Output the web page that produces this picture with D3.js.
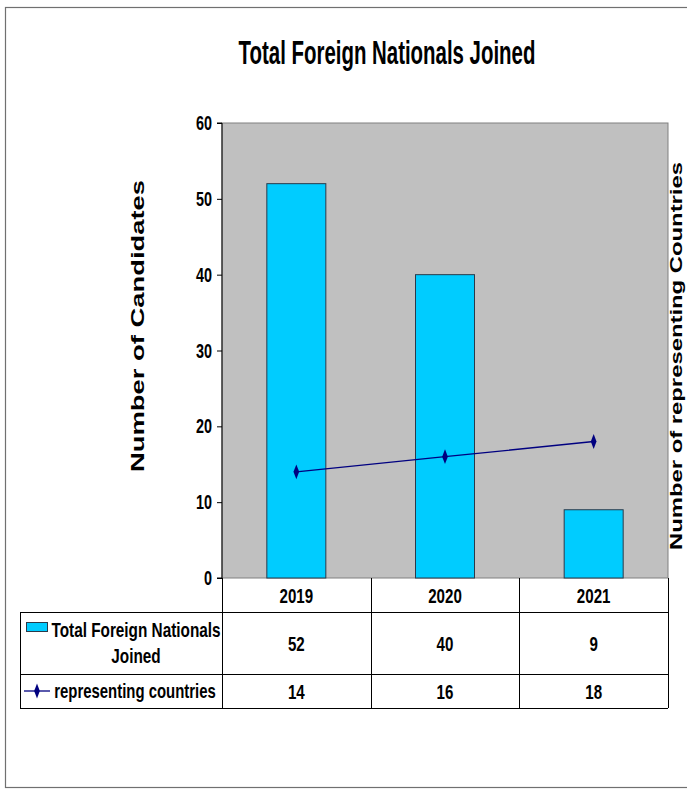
<!DOCTYPE html>
<html><head><meta charset="utf-8">
<script src="https://cdn.jsdelivr.net/npm/d3@7"></script>
<style>
html,body{margin:0;padding:0;background:#fff;}
svg{display:block;}
</style></head>
<body>
<svg id="chart" width="687" height="790"></svg>
<script>
const categories = ["2019", "2020", "2021"];
const candidates = [52, 40, 9];
const countries = [14, 16, 18];
const yTicks = [0, 10, 20, 30, 40, 50, 60];
const seriesNames = ["Total Foreign Nationals Joined", "representing countries"];
const titleText = "Total Foreign Nationals Joined";
const yLabel = "Number of Candidates";
const y2Label = "Number of representing Countries";

const FONT = "'Liberation Sans', Arial, sans-serif";
const NARROW = 0.72;
const svg = d3.select("#chart");

function narrow(parent, tx, ty, str, size, anchor, sx) {
  const g = parent.append("g").attr("transform", `translate(${tx},${ty}) scale(${sx||NARROW},1)`);
  return g.append("text").attr("x",0).attr("y",0)
    .attr("font-family",FONT).attr("font-weight","bold").attr("font-size",size)
    .attr("text-anchor",anchor||"middle").attr("fill","#000").text(str);
}

// outer frame
svg.append("rect").attr("x",5.5).attr("y",7.5).attr("width",720).attr("height",780)
  .attr("fill","#fff").attr("stroke","#707070").attr("stroke-width",1.2);

const L=222, R=668, T=123, B=578;
const x = d3.scaleBand().domain(categories).range([L,R]);
const y = d3.scaleLinear().domain([0,60]).range([B,T]);

// title (condensed to fit the reference width)
const titleG = svg.append("g");
const titleT = titleG.append("text").attr("x",0).attr("y",0)
  .attr("font-family",FONT).attr("font-weight","bold").attr("font-size",34)
  .attr("text-anchor","middle").attr("fill","#000").text(titleText);
const tw = titleT.node().getComputedTextLength();
titleG.attr("transform",`translate(387,64) scale(${297/tw},1)`);

// plot area
svg.append("rect").attr("x",L).attr("y",T).attr("width",R-L).attr("height",B-T)
  .attr("fill","#C0C0C0").attr("stroke","#808080").attr("stroke-width",1);

// bars
const bw = 59;
svg.append("g").selectAll("rect").data(categories).join("rect")
  .attr("x",d=>x(d)+x.bandwidth()/2-bw/2)
  .attr("y",(d,i)=>y(candidates[i]))
  .attr("width",bw)
  .attr("height",(d,i)=>B-y(candidates[i]))
  .attr("fill","#00CCFF").attr("stroke","#2a3a4a").attr("stroke-width",1);

// line
const line = d3.line().x((d,i)=>x(categories[i])+x.bandwidth()/2).y(d=>y(d));
svg.append("path").datum(countries).attr("d",line).attr("fill","none")
  .attr("stroke","#000080").attr("stroke-width",1.3);
const diamond = d3.symbol().type(d3.symbolDiamond).size(44);
svg.append("g").selectAll("path").data(countries).join("path")
  .attr("d",diamond)
  .attr("transform",(d,i)=>`translate(${x(categories[i])+x.bandwidth()/2},${y(d)}) scale(0.8,1.2)`)
  .attr("fill","#000080");

// y axis
const yAxis = d3.axisLeft(y).tickValues(yTicks).tickSize(5).tickFormat(()=>"");
const ga = svg.append("g").attr("transform",`translate(${L},0)`).call(yAxis);
ga.select(".domain").attr("stroke","#000").attr("d",`M-5,${T}H0V${B}H-5`);
ga.selectAll(".tick line").attr("stroke","#000");
yTicks.forEach(v=>{
  narrow(svg, 212, y(v)+7, String(v), 20, "end");
});

// axis titles
svg.append("text").attr("transform","translate(144,326) rotate(-90)")
  .attr("text-anchor","middle").attr("font-family",FONT)
  .attr("font-weight","bold").attr("font-size",19)
  .attr("textLength",292).attr("lengthAdjust","spacingAndGlyphs").text(yLabel);
svg.append("text").attr("transform","translate(682,356) rotate(-90)")
  .attr("text-anchor","middle").attr("font-family",FONT)
  .attr("font-weight","bold").attr("font-size",16)
  .attr("textLength",388).attr("lengthAdjust","spacingAndGlyphs").text(y2Label);

// data table
const rowY = [578, 612, 674, 708];
const tbl = svg.append("g").attr("stroke","#000").attr("stroke-width",1);
const colX = categories.map(c=>x(c)).concat([R]);
[1,2,3].forEach(r=>{
  tbl.append("line").attr("x1",20).attr("x2",R).attr("y1",rowY[r]+0.5).attr("y2",rowY[r]+0.5);
});
tbl.append("line").attr("x1",20.5).attr("x2",20.5).attr("y1",rowY[1]).attr("y2",rowY[3]);
colX.forEach(cx=>{
  tbl.append("line").attr("x1",Math.round(cx)+0.5).attr("x2",Math.round(cx)+0.5).attr("y1",rowY[0]).attr("y2",rowY[3]);
});

const txt = svg.append("g");
categories.forEach((c,i)=>{
  const cx = x(c)+x.bandwidth()/2;
  narrow(txt, cx, 603, c, 21);
  narrow(txt, cx, 651, String(candidates[i]), 21);
  narrow(txt, cx, 699, String(countries[i]), 21);
});
// legend keys
svg.append("rect").attr("x",26.5).attr("y",622.5).attr("width",21).attr("height",9)
  .attr("fill","#00CCFF").attr("stroke","#2a3a4a");
narrow(txt, 136, 637, seriesNames[0].replace(" Joined",""), 21, "middle", 0.73);
narrow(txt, 136, 663, "Joined", 21, "middle", 0.73);
svg.append("line").attr("x1",24).attr("x2",50).attr("y1",691).attr("y2",691)
  .attr("stroke","#000080").attr("stroke-width",1.3);
svg.append("path").attr("d",diamond).attr("transform","translate(37,691) scale(0.8,1.2)").attr("fill","#000080");
narrow(txt, 135, 698, seriesNames[1], 21, "middle", 0.71);
</script>
</body></html>
